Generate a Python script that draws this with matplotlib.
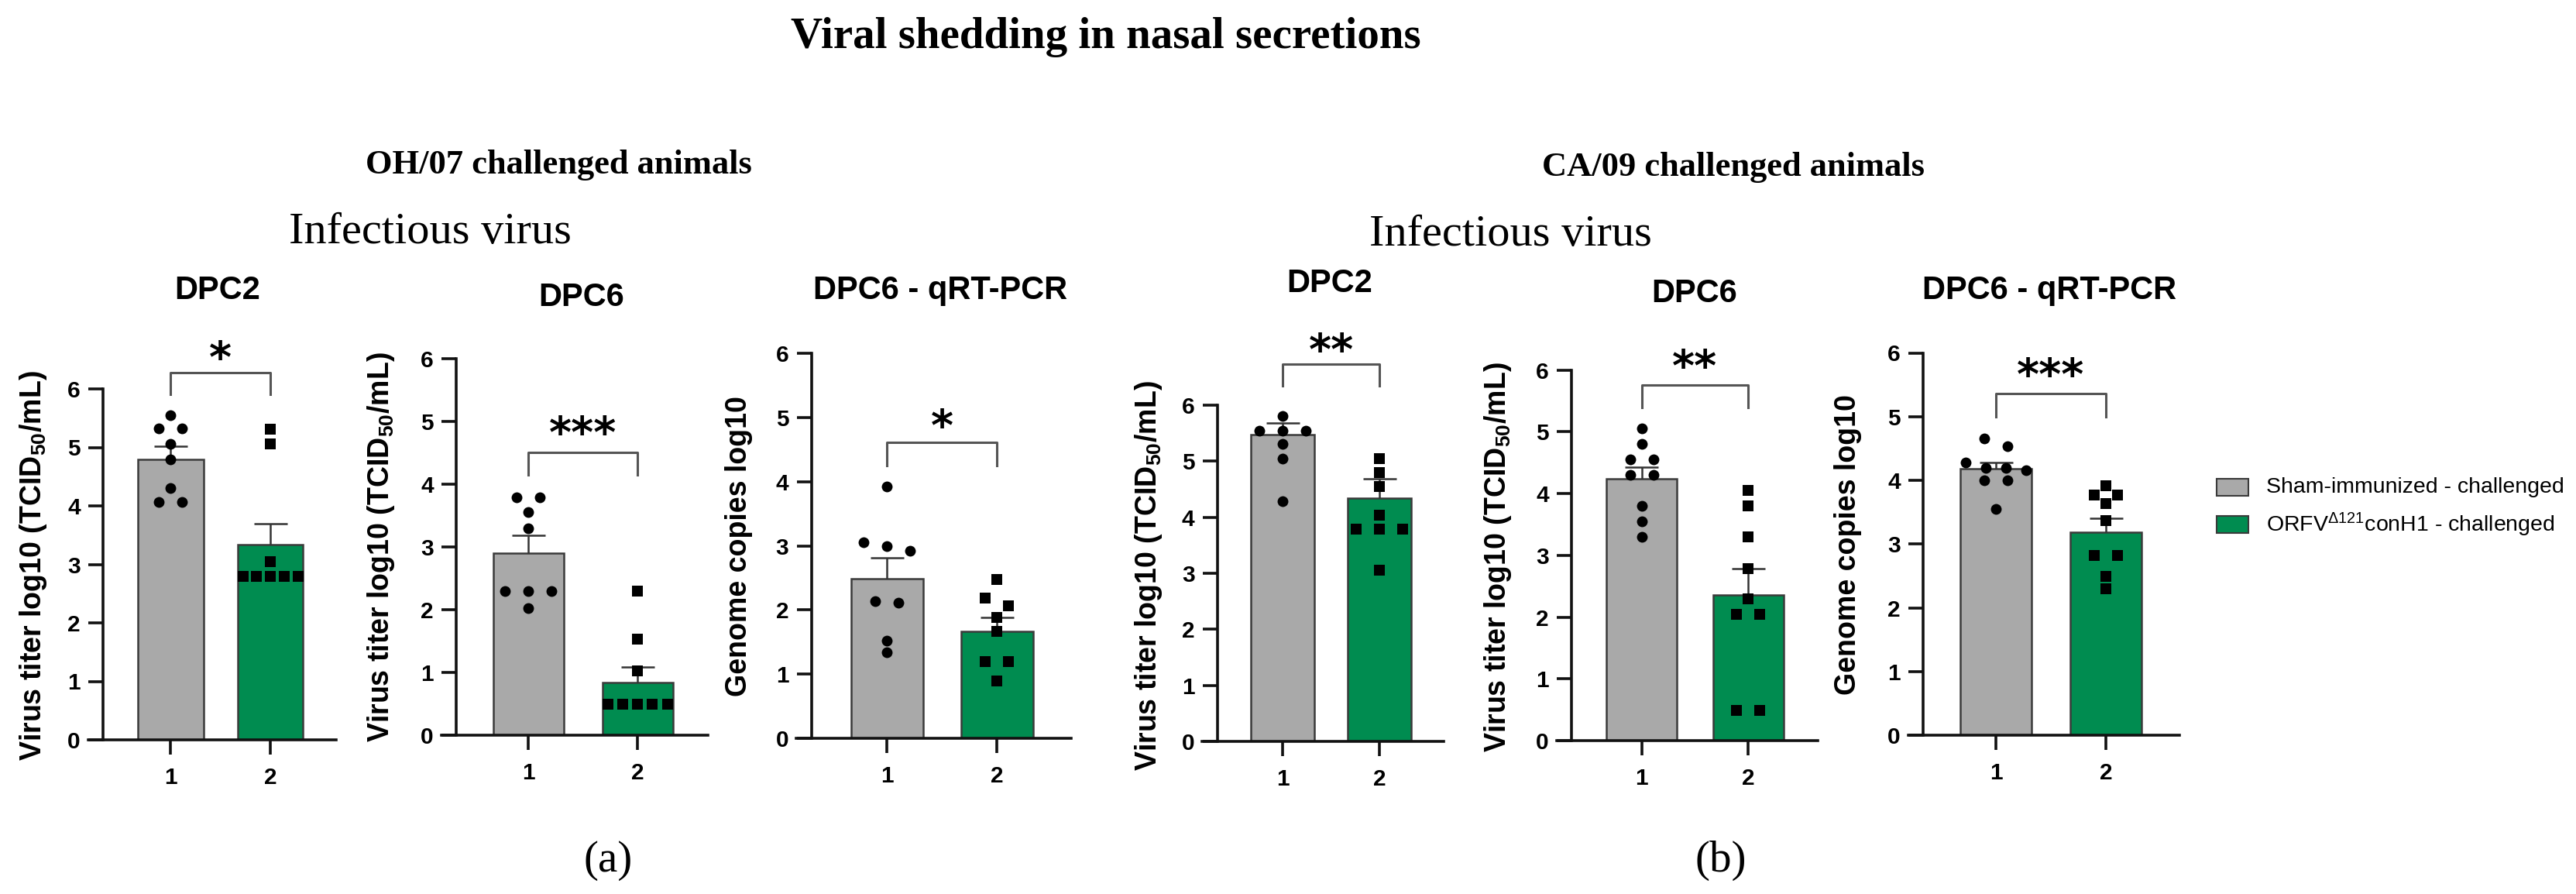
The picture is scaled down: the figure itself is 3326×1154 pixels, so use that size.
import numpy as np
import matplotlib
matplotlib.use("Agg")
import matplotlib.pyplot as plt
from matplotlib.patches import Rectangle

plt.rcParams['font.family'] = ['Liberation Sans', 'DejaVu Sans']
plt.rcParams['mathtext.fontset'] = 'custom'
plt.rcParams['mathtext.rm'] = 'Liberation Sans'
plt.rcParams['mathtext.bf'] = 'Liberation Sans:bold'
plt.rcParams['mathtext.it'] = 'Liberation Sans:italic'

W, H = 3326, 1154
GREY = '#a9a9a9'
GREEN = '#008c50'
EDGE = '#3a3a3a'

# ---- values ----
titer = r'Virus titer log10 (TCID$_{\mathbf{50}}$/mL)'
genome = 'Genome copies log10'
titles = ['DPC2', 'DPC6', 'DPC6 - qRT-PCR', 'DPC2', 'DPC6', 'DPC6 - qRT-PCR']
ylabels = [titer, titer, genome, titer, titer, genome]
groups = ['1', '2']
stars = ['*', '***', '*', '**', '**', '***']

sham_mean = [4.79, 2.90, 2.49, 5.47, 4.24, 4.18]
sham_sem = [0.23, 0.29, 0.32, 0.21, 0.19, 0.10]
orfv_mean = [3.34, 0.84, 1.67, 4.34, 2.36, 3.18]
orfv_sem = [0.36, 0.25, 0.21, 0.34, 0.43, 0.22]

sham_pts = [
    [5.55, 5.32, 5.32, 5.06, 4.80, 4.30, 4.07, 4.07],
    [3.79, 3.79, 3.55, 3.30, 2.30, 2.30, 2.30, 2.03],
    [3.92, 3.06, 3.00, 2.92, 2.14, 2.11, 1.52, 1.34],
    [5.81, 5.55, 5.55, 5.55, 5.31, 5.05, 4.29],
    [5.05, 4.80, 4.55, 4.55, 4.30, 4.30, 3.80, 3.55, 3.30],
    [4.66, 4.54, 4.28, 4.19, 4.19, 4.16, 4.00, 4.00, 3.55],
]
orfv_pts = [
    [5.31, 5.06, 3.04, 2.80, 2.80, 2.80, 2.80, 2.80],
    [2.30, 1.53, 1.03, 0.49, 0.49, 0.49, 0.49, 0.49],
    [2.48, 2.18, 2.06, 1.88, 1.67, 1.19, 1.19, 0.89],
    [5.05, 4.80, 4.55, 4.04, 3.79, 3.79, 3.79, 3.05],
    [4.05, 3.80, 3.30, 2.79, 2.29, 2.04, 2.04, 0.49, 0.49],
    [3.92, 3.77, 3.77, 3.63, 3.37, 2.82, 2.82, 2.49, 2.30],
]

# ---- layout (pixels in the 3326x1154 picture) ----
# x-axis start, y-axis x, x-axis end, y of 0, y of 6, bar centres, bar width
panels = [
    (113.6, 133.0, 434.0, 955, 502.0, 220.0, 349.0, 85),
    (570.0, 589.0, 913.6, 949, 463.0, 682.0, 823.0, 91),
    (1028.0, 1047.5, 1382.5, 953, 456.0, 1145.0, 1287.0, 93),
    (1552.0, 1571.7, 1864.0, 957, 523.0, 1656.0, 1781.0, 82),
    (2009.5, 2029.0, 2347.0, 956, 477.7, 2119.5, 2257.0, 91),
    (2463.5, 2483.0, 2814.0, 949, 455.5, 2577.0, 2719.0, 92),
]
brackets = [(6.28, 5.91, 6.68), (4.51, 4.15, 4.95), (4.61, 4.25, 5.00),
            (6.73, 6.35, 7.13), (5.76, 5.40, 6.19), (5.36, 5.00, 5.78)]
title_xy = [(281, 375), (751, 384), (1214, 375), (1717, 366), (2188, 379), (2646, 375)]
ylabel_xy = [(43, 730), (492, 706), (954, 705), (1483, 743), (1934, 719), (2386, 703)]


def fx(x):
    return x / W


def fy(y):
    return 1 - y / H


def swarm(vals, ppy, d=14.0, gap=30.0, maxw=85.0):
    vals = np.asarray(vals, float)
    order = np.argsort(-vals, kind='stable')
    clusters = []
    for i in order:
        if clusters and abs(vals[clusters[-1][-1]] - vals[i]) * ppy < 0.75 * d:
            clusters[-1].append(i)
        else:
            clusters.append([i])
    offs = np.zeros(len(vals))
    for c in clusters:
        n = len(c)
        if n > 1:
            sp = min(gap, (maxw - d) / (n - 1))
            for k, i in enumerate(c):
                offs[i] = (k - (n - 1) / 2) * sp
    return offs


fig = plt.figure(figsize=(W / 100, H / 100), dpi=100)

for p, (axL, yax, right, y0, y6, c1, c2, bw) in enumerate(panels):
    ax = fig.add_axes([fx(axL), fy(y0), (right - axL) / W, (y0 - y6) / H])
    ppx = c2 - c1
    ppy = (y0 - y6) / 6.0
    xL = 1 - (c1 - axL) / ppx
    xR = 2 + (right - c2) / ppx
    ax.set_xlim(xL, xR)
    ax.set_ylim(0, 6)

    for s in ['top', 'right']:
        ax.spines[s].set_visible(False)
    ax.spines['left'].set_position(('axes', (yax - axL) / (right - axL)))
    for s in ['left', 'bottom']:
        ax.spines[s].set_linewidth(2.6)
        ax.spines[s].set_color('#111111')

    means = [sham_mean[p], orfv_mean[p]]
    sems = [sham_sem[p], orfv_sem[p]]
    ax.bar([1, 2], means, width=bw / ppx, color=[GREY, GREEN],
           edgecolor=EDGE, linewidth=1.8, zorder=2)

    cw = 21.5 / ppx
    for xc, m, s in zip([1, 2], means, sems):
        ax.plot([xc, xc], [m, m + s], color='#333333', lw=1.8, zorder=3,
                solid_capstyle='butt')
        ax.plot([xc - cw, xc + cw], [m + s, m + s], color='#333333', lw=1.8,
                zorder=3, solid_capstyle='butt')

    for xc, pts, mk in [(1, sham_pts[p], 'o'), (2, orfv_pts[p], 's')]:
        offs = swarm(pts, ppy, maxw=bw)
        ax.plot(xc + offs / ppx, pts, ls='none', marker=mk, ms=10 if mk == 'o' else 9.5,
                mfc='black', mec='black', mew=0, zorder=4, clip_on=False)

    top, leg, sy = brackets[p]
    ax.plot([1, 1, 2, 2], [leg, top, top, leg], color='#555555', lw=2.2,
            clip_on=False, zorder=3)
    fs = 40
    ax.annotate(stars[p], (1.5, sy), xytext=(0, -0.52 * fs), textcoords='offset points',
                ha='center', va='baseline', fontsize=fs, fontweight='bold',
                family='DejaVu Sans', annotation_clip=False)

    ax.set_yticks(range(7))
    ax.set_xticks([1, 2])
    ax.set_xticklabels(groups)
    ax.tick_params(axis='both', direction='out', length=14, width=2.6,
                   labelsize=21.5, color='#111111')
    ax.tick_params(axis='y', pad=7)
    ax.tick_params(axis='x', pad=11)
    for lab in ax.get_xticklabels() + ax.get_yticklabels():
        lab.set_fontweight('bold')
    ax.patch.set_visible(False)

    tx, ty = title_xy[p]
    fig.text(fx(tx), fy(ty), titles[p], ha='center', va='center',
             fontsize=30, fontweight='bold')
    lx, ly = ylabel_xy[p]
    fig.text(fx(lx), fy(ly), ylabels[p], ha='center', va='center', rotation=90,
             fontsize=27, fontweight='bold')

serif = 'Liberation Serif'
fig.text(fx(1428), fy(48), 'Viral shedding in nasal secretions', ha='center',
         va='center', fontsize=41, fontweight='bold', family=serif)
fig.text(fx(721), fy(213), 'OH/07 challenged animals', ha='center', va='center',
         fontsize=32, fontweight='bold', family=serif)
fig.text(fx(2238), fy(216), 'CA/09 challenged animals', ha='center', va='center',
         fontsize=32, fontweight='bold', family=serif)
fig.text(fx(555), fy(300), 'Infectious virus', ha='center', va='center',
         fontsize=42, family=serif)
fig.text(fx(1950), fy(303), 'Infectious virus', ha='center', va='center',
         fontsize=42, family=serif)
fig.text(fx(785), fy(1111), '(a)', ha='center', va='center', fontsize=41, family=serif)
fig.text(fx(2222), fy(1111), '(b)', ha='center', va='center', fontsize=41, family=serif)

legend_labels = ['Sham-immunized - challenged', r'ORFV$^{\Delta121}$conH1 - challenged']
for (yc, col, lab) in zip([629, 677], [GREY, GREEN], legend_labels):
    fig.add_artist(Rectangle((fx(2862), fy(yc + 11)), 41 / W, 22 / H,
                             transform=fig.transFigure, facecolor=col,
                             edgecolor=EDGE, linewidth=1.5))
    fig.text(fx(2926), fy(yc), lab, ha='left', va='center', fontsize=20.5)

fig.savefig('out.png', dpi=100)
